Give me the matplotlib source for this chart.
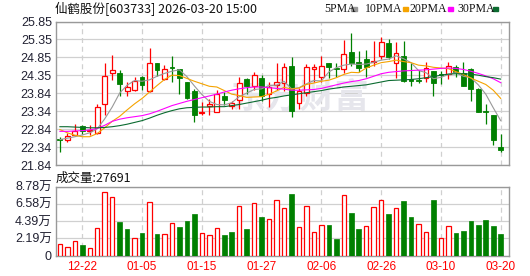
import matplotlib
matplotlib.use("Agg")
import matplotlib.pyplot as plt
import numpy as np
from matplotlib.patches import Rectangle

# daily candles, 60 sessions (2025-12-17 .. 2026-03-20)
opens = [22.58, 22.55, 22.68, 22.93, 22.80, 22.74, 23.54, 24.42, 24.42, 23.92,
         23.94, 24.29, 23.92, 24.68, 24.24, 24.58, 24.52, 24.17, 23.90, 23.29,
         23.48, 23.32, 23.77, 23.50, 23.67, 24.24, 24.04, 24.27, 23.83, 24.07,
         24.13, 24.61, 23.57, 23.85, 24.52, 24.31, 24.68, 24.54, 24.52, 24.99,
         24.73, 24.80, 24.72, 24.89, 25.24, 24.68, 24.89, 24.24, 24.21, 24.27,
         24.48, 24.38, 24.39, 24.59, 24.41, 24.52, 23.97, 23.34, 23.25, 22.34]
highs = [22.63, 22.73, 22.99, 22.96, 22.96, 23.54, 24.70, 24.92, 24.50, 24.17,
         24.29, 24.33, 25.10, 24.69, 24.63, 24.89, 24.53, 24.17, 23.96, 23.59,
         23.68, 23.93, 23.87, 23.62, 24.29, 24.26, 24.45, 24.36, 24.17, 24.70,
         24.68, 24.87, 24.00, 24.66, 24.66, 24.89, 24.69, 24.70, 25.33, 25.52,
         25.03, 25.04, 25.30, 25.42, 25.36, 25.28, 25.30, 24.70, 24.50, 24.71,
         24.48, 24.48, 24.71, 24.64, 24.71, 24.54, 23.98, 23.55, 23.25, 22.72]
lows = [22.20, 22.48, 22.66, 22.70, 22.68, 22.72, 23.25, 24.22, 23.78, 23.78,
        23.92, 23.93, 23.87, 24.33, 24.22, 24.17, 23.83, 23.68, 23.04, 23.23,
        23.25, 23.32, 23.53, 23.41, 23.41, 23.83, 23.94, 23.64, 23.46, 23.94,
        23.90, 23.18, 23.40, 23.76, 24.17, 24.15, 24.27, 24.29, 24.42, 24.62,
        24.45, 24.31, 24.60, 24.79, 24.80, 24.27, 24.15, 24.05, 24.13, 24.17,
        23.76, 24.11, 24.25, 24.29, 24.04, 23.62, 23.31, 22.99, 22.39, 22.20]
closes = [22.54, 22.66, 22.80, 22.78, 22.82, 23.46, 24.33, 24.50, 24.11, 24.02,
          24.20, 24.07, 24.68, 24.50, 24.52, 24.54, 24.27, 23.70, 23.25, 23.31,
          23.55, 23.83, 23.67, 23.56, 24.13, 24.04, 24.36, 23.76, 24.02, 24.15,
          24.59, 23.34, 23.92, 24.57, 24.58, 24.60, 24.57, 24.51, 24.94, 24.70,
          24.54, 24.59, 24.76, 25.27, 24.85, 24.96, 24.20, 24.18, 24.20, 24.56,
          24.13, 24.36, 24.61, 24.43, 24.05, 23.97, 23.33, 23.31, 22.54, 22.26]

# moving averages as shown on the chart
ma5 = [22.55, 22.59, 22.63, 22.68, 22.74, 22.85, 23.13, 23.46, 23.85, 24.07,
       24.20, 24.18, 24.22, 24.32, 24.40, 24.46, 24.50, 24.31, 24.05, 23.81,
       23.62, 23.53, 23.52, 23.58, 23.75, 23.85, 23.95, 23.97, 24.06, 24.07,
       24.18, 23.97, 24.00, 24.11, 24.20, 24.19, 24.44, 24.56, 24.63, 24.66,
       24.65, 24.66, 24.71, 24.77, 24.80, 24.89, 24.81, 24.70, 24.48, 24.42,
       24.25, 24.29, 24.37, 24.42, 24.32, 24.28, 24.08, 23.82, 23.44, 23.08]
ma10 = [22.83, 22.74, 22.67, 22.63, 22.63, 22.72, 22.88, 23.06, 23.20, 23.38,
        23.55, 23.70, 23.88, 24.06, 24.23, 24.35, 24.34, 24.26, 24.18, 24.11,
        24.04, 24.02, 23.92, 23.82, 23.78, 23.73, 23.74, 23.75, 23.82, 23.91,
        24.01, 23.96, 23.99, 24.09, 24.13, 24.18, 24.21, 24.28, 24.37, 24.43,
        24.42, 24.55, 24.63, 24.70, 24.73, 24.77, 24.73, 24.70, 24.63, 24.61,
        24.57, 24.55, 24.53, 24.45, 24.37, 24.27, 24.18, 24.09, 23.93, 23.70]
ma20 = [22.78, 22.78, 22.79, 22.80, 22.82, 22.86, 22.95, 23.06, 23.12, 23.16,
        23.19, 23.22, 23.27, 23.34, 23.42, 23.50, 23.56, 23.62, 23.67, 23.72,
        23.77, 23.82, 23.88, 23.93, 23.97, 24.00, 24.02, 24.02, 24.00, 23.98,
        23.96, 23.93, 23.93, 23.94, 23.95, 23.98, 24.03, 24.08, 24.13, 24.17,
        24.20, 24.25, 24.32, 24.39, 24.43, 24.45, 24.47, 24.48, 24.49, 24.50,
        24.52, 24.54, 24.55, 24.54, 24.51, 24.46, 24.40, 24.33, 24.25, 24.14]
ma30 = [22.91, 22.91, 22.90, 22.89, 22.88, 22.88, 22.89, 22.91, 22.94, 22.98,
        23.03, 23.08, 23.15, 23.23, 23.30, 23.36, 23.41, 23.44, 23.45, 23.46,
        23.46, 23.47, 23.47, 23.50, 23.53, 23.57, 23.61, 23.65, 23.70, 23.73,
        23.77, 23.80, 23.83, 23.86, 23.89, 23.92, 23.96, 23.99, 24.02, 24.04,
        24.06, 24.08, 24.12, 24.16, 24.20, 24.21, 24.22, 24.23, 24.25, 24.28,
        24.31, 24.35, 24.38, 24.39, 24.39, 24.38, 24.35, 24.31, 24.28, 24.24]

# volume in units of 10k (万)
volume = [1.46, 1.07, 1.84, 1.37, 0.94, 3.55, 8.14, 7.50, 4.20, 3.43,
          2.23, 2.91, 6.85, 2.78, 2.74, 4.15, 3.68, 4.33, 5.23, 2.87,
          2.61, 3.55, 2.66, 3.04, 6.34, 3.43, 6.72, 4.84, 4.67, 7.11,
          6.08, 7.80, 3.64, 6.34, 3.00, 3.90, 3.94, 2.14, 7.75, 5.35,
          3.43, 3.77, 6.21, 7.11, 5.23, 6.08, 6.90, 4.84, 4.03, 3.00,
          7.02, 2.23, 3.77, 2.91, 3.17, 4.45, 3.94, 4.58, 3.81, 2.77]

date_pos = [3, 11, 19, 27, 35, 43, 51, 59]
date_labels = ["12-22", "01-05", "01-15", "01-27", "02-06", "02-26", "03-10", "03-20"]
price_labels = ["21.84", "22.34", "22.84", "23.34", "23.84", "24.35", "24.85", "25.35", "25.85"]
vol_labels = ["0", "2.19万", "4.39万", "6.58万", "8.78万"]

RED = "#ff0000"
GREEN = "#008000"
MA_COLORS = ["#999999", "#f5a300", "#ff00ff", "#0b6b30"]
GRID = "#d0d0d0"
EDGE = "#999999"

W, H = 530, 276
fig = plt.figure(figsize=(W / 100, H / 100), dpi=100)


def px_axes(l, t, r, b):
    return fig.add_axes([l / W, 1 - b / H, (r - l) / W, (b - t) / H])


ax1 = px_axes(56, 21.5, 509, 165)
ax2 = px_axes(56, 186.5, 509, 255.5)

x = np.arange(len(closes))
o, h, l, c = map(np.array, (opens, highs, lows, closes))
up = c >= o

# wicks
ax1.vlines(x[up], l[up], h[up], color=RED, lw=0.9, zorder=2)
ax1.vlines(x[~up], l[~up], h[~up], color=GREEN, lw=0.9, zorder=2)
# bodies
body_lo = np.minimum(o, c)
body_h = np.maximum(np.abs(c - o), 0.02)
ax1.bar(x[up], body_h[up], bottom=body_lo[up], width=0.64,
        facecolor="white", edgecolor=RED, linewidth=0.9, zorder=3)
ax1.bar(x[~up], body_h[~up], bottom=body_lo[~up], width=0.64,
        facecolor=GREEN, edgecolor=GREEN, linewidth=0.6, zorder=3)

for ma, col in zip([ma5, ma10, ma20, ma30], MA_COLORS):
    ax1.plot(x, ma, color=col, lw=0.8, zorder=4)

# watermark
ax1.text(300 / W, 1 - 97 / H, "东方财富", transform=fig.transFigure,
         fontsize=25, fontweight="bold", color="#e6e6ec",
         family=["Noto Sans CJK SC", "DejaVu Sans"],
         ha="center", va="center", zorder=1)

ax1.set_ylim(21.84, 25.85)
ax1.set_yticks(np.linspace(21.84, 25.85, 9))
ax1.set_yticklabels(price_labels)

# volume: colour by change against previous close
vol_up = np.r_[True, np.diff(c) >= 0]
v = np.array(volume)
ax2.bar(x[vol_up], v[vol_up], width=0.6, facecolor="white",
        edgecolor=RED, linewidth=0.9, zorder=3)
ax2.bar(x[~vol_up], v[~vol_up], width=0.62, facecolor=GREEN,
        edgecolor=GREEN, linewidth=0.5, zorder=3)
ax2.set_ylim(0, 8.78)
ax2.set_yticks(np.linspace(0, 8.78, 5))
ax2.set_yticklabels(vol_labels)

for ax in (ax1, ax2):
    ax.set_xlim(-0.52, 60.11)
    ax.set_xticks(date_pos)
    ax.set_axisbelow(True)
    ax.grid(axis="y", color=GRID, lw=0.9, ls="-")
    ax.grid(axis="x", color=GRID, lw=0.9, ls=(0, (4, 3)))
    ax.tick_params(length=0, pad=3, labelsize=9, colors="#222233")
    for s in ax.spines.values():
        s.set_color(EDGE)
        s.set_linewidth(1.0)
    for t in ax.get_yticklabels():
        t.set_family(["Liberation Sans", "Noto Sans CJK SC"])

ax1.set_xticklabels([])
ax2.set_xticklabels(date_labels, color=RED, fontsize=8.5, family="Liberation Sans")
ax2.tick_params(axis="x", pad=4)

cjk = ["Noto Sans CJK SC", "DejaVu Sans"]
fig.text(55 / W, 1 - 9 / H, "仙鹤股份[603733] 2026-03-20 15:00", fontsize=9,
         family=cjk, va="center", ha="left", color="#111111")
fig.text(56 / W, 1 - 178 / H, "成交量:27691", fontsize=9,
         family=cjk, va="center", ha="left", color="#111111")

# legend along the top right
leg_names = ["5PMA", "10PMA", "20PMA", "30PMA"]
leg_x = [324, 365, 410, 457]
mark_x = [351, 402.5, 447.5, 492.5]
for name, tx, mx, col in zip(leg_names, leg_x, mark_x, MA_COLORS):
    fig.text(tx / W, 1 - 9 / H, name, fontsize=8.5, family="Liberation Serif",
             va="center", ha="left", color="#111111")
    fig.patches.append(Rectangle((mx / W, 1 - 10.5 / H), 5.5 / W, 3 / H,
                                 transform=fig.transFigure, color=col))

fig.savefig("out.png", dpi=100)
